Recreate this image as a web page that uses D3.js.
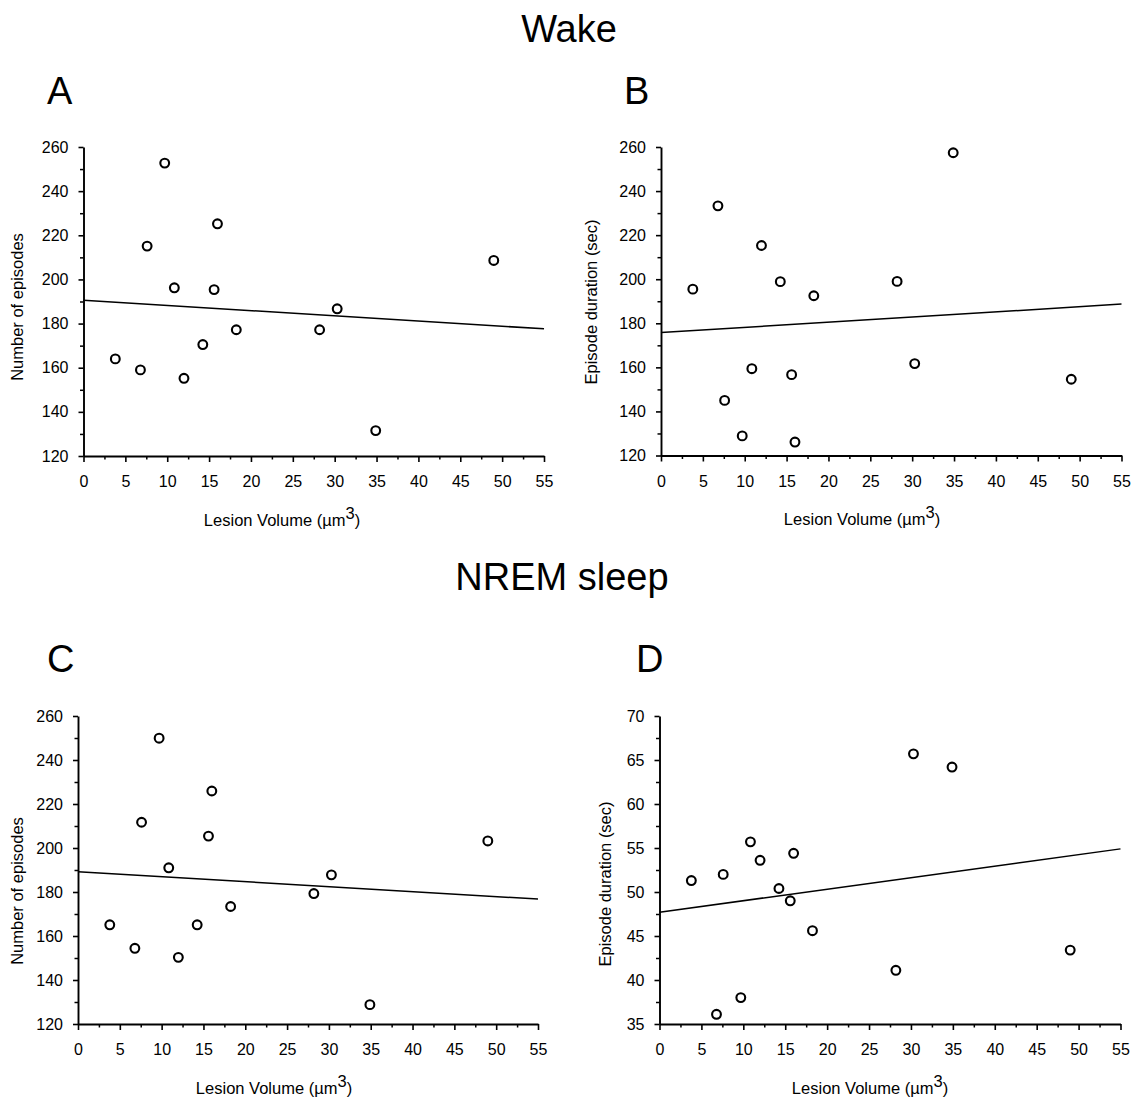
<!DOCTYPE html>
<html>
<head>
<meta charset="utf-8">
<script src="https://cdn.jsdelivr.net/npm/d3@7"></script>
<style>
  body { margin: 0; background: #fff; }
  text { font-family: "Liberation Sans", Arial, sans-serif; fill: #000; }
</style>
</head>
<body>
<script>
'use strict';

// lesion volume (µm3) for each animal, shared by all four panels
const lesionVolume = [3.8, 6.8, 7.6, 9.7, 10.85, 12.0, 14.25, 15.6, 16.0, 18.25, 28.2, 30.3, 34.9, 49.0];

// wake
const wakeEpisodes = [164.0, 159.0, 215.1, 252.7, 196.2, 155.2, 170.5, 195.4, 225.2, 177.2, 177.2, 186.7, 131.5, 208.6];
const wakeDuration = [195.5, 233.3, 145.0, 128.9, 159.4, 215.3, 198.9, 156.7, 126.1, 192.5, 199.0, 161.7, 257.4, 154.6];

// NREM sleep
const nremEpisodes = [165.1, 154.4, 211.7, 249.9, 191.0, 150.3, 165.1, 205.4, 225.9, 173.4, 179.3, 187.8, 128.8, 203.2];
const nremDuration = [51.3, 36.1, 52.0, 38.0, 55.7, 53.6, 50.4, 49.0, 54.4, 45.6, 41.1, 65.7, 64.2, 43.4];

// fitted line, value at x = 0 and at x = 55
const fitWakeEpisodes = [190.6, 177.6];
const fitWakeDuration = [175.8, 188.7];
const fitNremEpisodes = [189.2, 176.8];
const fitNremDuration = [47.7, 54.9];

// axis ticks
const xTicks = d3.range(0, 56, 5);
const episodeTicks = d3.range(120, 261, 20);
const wakeDurTicks = d3.range(120, 261, 20);
const nremDurTicks = d3.range(35, 71, 5);

const xLabel = "Lesion Volume (µm";
const yLabelEpisodes = "Number of episodes";
const yLabelDuration = "Episode duration (sec)";

let svg = d3.select("body").append("svg")
  .attr("width", 1133)
  .attr("height", 1097);

// section titles and panel letters
svg.append("text").attr("x", 569).attr("y", 42)
  .attr("text-anchor", "middle").style("font-size", "38px").text("Wake");
svg.append("text").attr("x", 562).attr("y", 590)
  .attr("text-anchor", "middle").style("font-size", "38px").text("NREM sleep");

[["A", 47, 104], ["B", 624, 104], ["C", 47, 672], ["D", 636, 672]].forEach(l => {
  svg.append("text").attr("x", l[1]).attr("y", l[2])
    .style("font-size", "38px").text(l[0]);
});

let panels = [
  { ys: wakeEpisodes, fit: fitWakeEpisodes, yTicks: episodeTicks, yLabel: yLabelEpisodes,
    x0: 83.5, x1: 544, yTop: 147, yBot: 456, ylx: 23, yly: 307, xlx: 282, xly: 526 },
  { ys: wakeDuration, fit: fitWakeDuration, yTicks: wakeDurTicks, yLabel: yLabelDuration,
    x0: 661, x1: 1121.5, yTop: 147, yBot: 455.5, ylx: 597, yly: 302, xlx: 862, xly: 525 },
  { ys: nremEpisodes, fit: fitNremEpisodes, yTicks: episodeTicks, yLabel: yLabelEpisodes,
    x0: 78, x1: 538, yTop: 716, yBot: 1024, ylx: 23, yly: 891, xlx: 274, xly: 1094 },
  { ys: nremDuration, fit: fitNremDuration, yTicks: nremDurTicks, yLabel: yLabelDuration,
    x0: 659.5, x1: 1120.5, yTop: 716, yBot: 1024, ylx: 611, yly: 884, xlx: 870, xly: 1094 }
];

panels.forEach(drawPanel);

function drawPanel(p) {
  let xScale = d3.scaleLinear().domain([0, 55]).range([p.x0, p.x1]);
  let yMin = p.yTicks[0];
  let yMax = p.yTicks[p.yTicks.length - 1];
  let step = p.yTicks[1] - p.yTicks[0];
  let yScale = d3.scaleLinear().domain([yMin, yMax]).range([p.yBot, p.yTop]);

  // minor ticks first, so the axis lines sit on top
  let xMinor = d3.range(2.5, 55, 5);
  svg.append("g")
    .attr("transform", "translate(0," + p.yBot + ")")
    .call(d3.axisBottom(xScale).tickValues(xMinor).tickSize(3.5).tickSizeOuter(0).tickFormat(""))
    .call(g => g.select(".domain").remove())
    .selectAll("line").attr("stroke-width", 1.5);

  let yMinor = d3.range(yMin + step / 2, yMax, step);
  svg.append("g")
    .attr("transform", "translate(" + p.x0 + ",0)")
    .call(d3.axisLeft(yScale).tickValues(yMinor).tickSize(3.5).tickSizeOuter(0).tickFormat(""))
    .call(g => g.select(".domain").remove())
    .selectAll("line").attr("stroke-width", 1.5);

  // major axes
  let gx = svg.append("g")
    .attr("transform", "translate(0," + p.yBot + ")")
    .call(d3.axisBottom(xScale).tickValues(xTicks).tickSize(6).tickSizeOuter(0).tickPadding(14));
  let gy = svg.append("g")
    .attr("transform", "translate(" + p.x0 + ",0)")
    .call(d3.axisLeft(yScale).tickValues(p.yTicks).tickSize(5).tickSizeOuter(0).tickPadding(10));

  [gx, gy].forEach(g => {
    g.select(".domain").attr("stroke-width", 1.9);
    g.selectAll(".tick line").attr("stroke-width", 1.6);
    g.selectAll(".tick text")
      .style("font-family", "'Liberation Sans', Arial, sans-serif")
      .style("font-size", "16px");
  });

  // regression line
  let line = d3.line()
    .x(d => xScale(d[0]))
    .y(d => yScale(d[1]));
  svg.append("path")
    .datum([[0, p.fit[0]], [55, p.fit[1]]])
    .attr("fill", "none")
    .attr("stroke", "#000")
    .attr("stroke-width", 1.5)
    .attr("d", line);

  // open circle markers
  svg.append("g").selectAll("circle")
    .data(p.ys)
    .enter()
    .append("circle")
      .attr("cx", (d, i) => xScale(lesionVolume[i]))
      .attr("cy", d => yScale(d))
      .attr("r", 4.4)
      .attr("fill", "none")
      .attr("stroke", "#000")
      .attr("stroke-width", 2.1);

  // axis labels
  let xl = svg.append("text")
    .attr("x", p.xlx)
    .attr("y", p.xly)
    .attr("text-anchor", "middle")
    .style("font-size", "16.5px");
  xl.append("tspan").text(xLabel);
  xl.append("tspan").attr("dy", "-0.45em").text("3");
  xl.append("tspan").attr("dy", "0.45em").text(")");

  svg.append("text")
    .attr("transform", "translate(" + p.ylx + "," + p.yly + ")rotate(-90)")
    .attr("text-anchor", "middle")
    .style("font-size", "16.5px")
    .text(p.yLabel);
}
</script>
</body>
</html>
